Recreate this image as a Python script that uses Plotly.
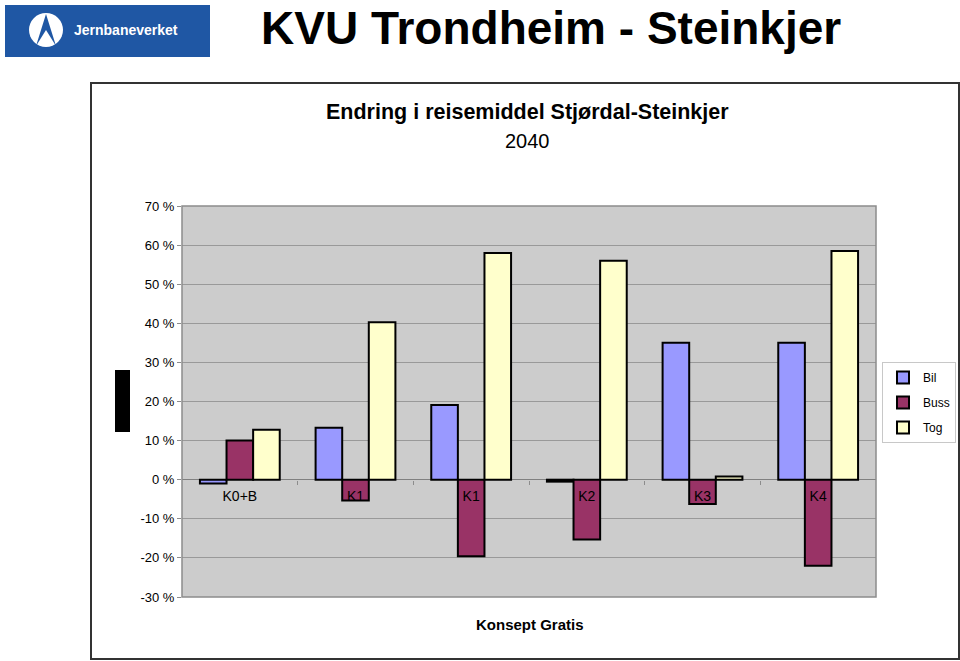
import plotly.graph_objects as go

# ---- data ----
categories = ["K0+B", "K1", "K1", "K2", "K3", "K4"]
bil = [-0.010, 0.133, 0.191, -0.005, 0.350, 0.350]
buss = [0.100, -0.053, -0.196, -0.153, -0.062, -0.220]
tog = [0.128, 0.403, 0.580, 0.560, 0.008, 0.585]
series_names = ["Bil", "Buss", "Tog"]
y_tickvals = [0.7, 0.6, 0.5, 0.4, 0.3, 0.2, 0.1, 0.0, -0.1, -0.2, -0.3]
y_ticktext = ["70 %", "60 %", "50 %", "40 %", "30 %", "20 %", "10 %", "0 %", "-10 %", "-20 %", "-30 %"]

W, H = 960, 661
L, R, T, B = 182, 876, 206, 597  # plot area in px


def pxx(x):
    return (x - L) / (R - L)


def pxy(y):
    return (B - y) / (B - T)


positions = list(range(len(categories)))
colors = ["#9999ff", "#993366", "#ffffcc"]
FONT = "Liberation Sans, Arial, sans-serif"

fig = go.Figure()
for name, vals, col in zip(series_names, [bil, buss, tog], colors):
    fig.add_trace(go.Bar(
        x=positions, y=vals, name=name, legendgroup=name,
        marker=dict(color=col, line=dict(color="black", width=2)),
    ))

shapes = [
    # outer chart frame
    dict(type="rect", xref="paper", yref="paper", x0=pxx(91), x1=pxx(959), y0=pxy(83), y1=pxy(659),
         line=dict(color="#333333", width=2), layer="below"),
    # plot border
    dict(type="rect", xref="paper", yref="paper", x0=0, x1=1, y0=0, y1=1,
         line=dict(color="#8c8c8c", width=1.5), layer="above"),
    # black block at left
    dict(type="rect", xref="paper", yref="paper", x0=pxx(115), x1=pxx(130), y0=pxy(370), y1=pxy(432),
         line=dict(width=0), fillcolor="black"),
    # logo background
    dict(type="rect", xref="paper", yref="paper", x0=pxx(5), x1=pxx(210), y0=pxy(5), y1=pxy(57),
         line=dict(width=0), fillcolor="#1f57a4"),
    # logo circle
    dict(type="circle", xref="paper", yref="paper", x0=pxx(29), x1=pxx(63), y0=pxy(13), y1=pxy(47),
         line=dict(width=0), fillcolor="white"),
]
# logo triangle (path in px -> paper)
tri = [(46, 14), (36, 46), (46, 30), (56, 46)]
path = "M " + " L ".join(f"{pxx(a)},{pxy(b)}" for a, b in tri) + " Z"
shapes.append(dict(type="path", xref="paper", yref="paper", path=path, line=dict(width=0), fillcolor="#1f57a4"))

annotations = [
    dict(text="<b>KVU Trondheim - Steinkjer</b>", x=pxx(551), y=pxy(0), xref="paper", yref="paper",
         showarrow=False, font=dict(size=46, color="black", family=FONT), xanchor="center", yanchor="top"),
    dict(text="<b>Jernbaneverket</b>", x=pxx(72), y=pxy(30), xref="paper", yref="paper",
         showarrow=False, font=dict(size=14, color="white", family=FONT), xanchor="left", yanchor="middle"),
    dict(text="<b>Endring i reisemiddel Stjørdal-Steinkjer</b>", x=pxx(527), y=pxy(112), xref="paper", yref="paper",
         showarrow=False, font=dict(size=21.5, color="black", family=FONT), xanchor="center", yanchor="middle"),
    dict(text="2040", x=pxx(527), y=pxy(141), xref="paper", yref="paper",
         showarrow=False, font=dict(size=20, color="black", family=FONT), xanchor="center", yanchor="middle"),
    dict(text="<b>Konsept Gratis</b>", x=pxx(530), y=pxy(624), xref="paper", yref="paper",
         showarrow=False, font=dict(size=15, color="black", family=FONT), xanchor="center", yanchor="middle"),
]

fig.update_layout(
    width=W, height=H, autosize=False,
    margin=dict(l=L, r=W - R, t=T, b=H - B, pad=0, autoexpand=False),
    paper_bgcolor="white", plot_bgcolor="#cccccc",
    barmode="group", bargap=0.31, bargroupgap=0,
    font=dict(family=FONT, size=13, color="black"),
    showlegend=True,
    legend=dict(x=pxx(956), y=pxy(362), xanchor="right", yanchor="top",
                bgcolor="white", bordercolor="#c8c8c8", borderwidth=1,
                font=dict(size=12), traceorder="grouped", tracegroupgap=6,
                itemwidth=30),
    shapes=shapes, annotations=annotations,
    xaxis=dict(range=[-0.5, len(categories) - 0.5], tickvals=positions, ticktext=categories,
               anchor="free", position=0.3, showgrid=False, zeroline=False, showline=False,
               ticks="", tickfont=dict(size=14), ticklabelstandoff=6,
               minor=dict(tickvals=[p + 0.5 for p in positions[:-1]], ticks="outside",
                          ticklen=4, tickcolor="#8c8c8c", showgrid=False)),
    yaxis=dict(range=[-0.3, 0.7], tickvals=y_tickvals, ticktext=y_ticktext,
               showgrid=True, gridcolor="#999999", gridwidth=1,
               zeroline=True, zerolinecolor="#808080", zerolinewidth=1,
               ticks="outside", ticklen=4, tickcolor="#8c8c8c", tickfont=dict(size=13),
               showline=False),
)

fig.write_html("out.html")
